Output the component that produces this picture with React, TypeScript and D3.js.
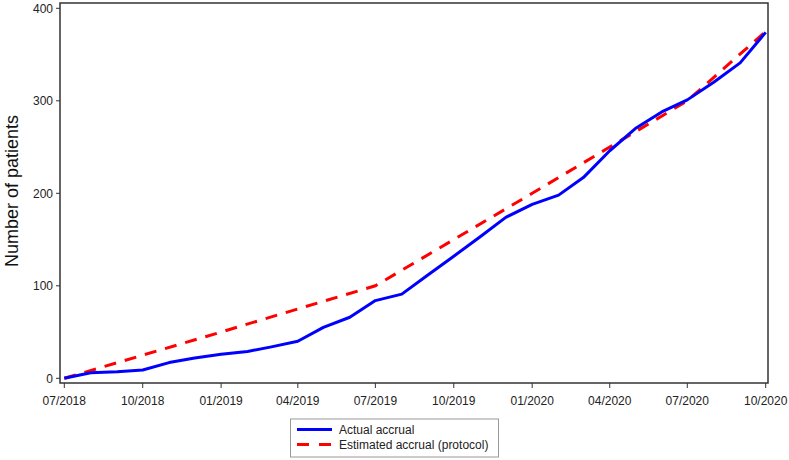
import React from "react";
import * as d3 from "d3";

const actualMonths = [
  "2018-07", "2018-08", "2018-09", "2018-10", "2018-11", "2018-12",
  "2019-01", "2019-02", "2019-03", "2019-04", "2019-05", "2019-06",
  "2019-07", "2019-08", "2019-09", "2019-10", "2019-11", "2019-12",
  "2020-01", "2020-02", "2020-03", "2020-04", "2020-05", "2020-06",
  "2020-07", "2020-08", "2020-09", "2020-10",
];
const actualValues = [
  0, 6, 7, 9, 17, 22,
  26, 29, 34, 40, 55, 66,
  84, 91, 112, 132, 153, 174,
  188, 198, 217, 246, 270, 288,
  301, 320, 341, 374,
];
const estimatedMonths = [
  "2018-07", "2018-10", "2019-01", "2019-04", "2019-07",
  "2019-10", "2020-01", "2020-04", "2020-07", "2020-10",
];
const estimatedValues = [0, 25, 50, 75, 100, 150, 200, 250, 300, 375];

const xTickLabels = [
  "07/2018", "10/2018", "01/2019", "04/2019", "07/2019",
  "10/2019", "01/2020", "04/2020", "07/2020", "10/2020",
];
const yTicks = [0, 100, 200, 300, 400];

const yAxisTitle = "Number of patients";
const legendLabels = ["Actual accrual", "Estimated accrual (protocol)"];

const parseMonth = d3.timeParse("%Y-%m");
const parseTick = d3.timeParse("%m/%Y");

export default function App() {
  const W = 789;
  const H = 460;
  const frame = { left: 60, right: 768, top: 3, bottom: 383 };

  const x = d3
    .scaleTime()
    .domain([parseMonth("2018-07") as Date, parseMonth("2020-10") as Date])
    .range([64.3, 765.7]);
  const y = d3.scaleLinear().domain([0, 400]).range([378.3, 8.3]);

  const line = d3
    .line<[Date, number]>()
    .x((d) => x(d[0]))
    .y((d) => y(d[1]));

  const actual: [Date, number][] = actualMonths.map((m, i) => [
    parseMonth(m) as Date,
    actualValues[i],
  ]);
  const estimated: [Date, number][] = estimatedMonths.map((m, i) => [
    parseMonth(m) as Date,
    estimatedValues[i],
  ]);

  const font = "'Liberation Sans', Arial, sans-serif";
  const axisColor = "#333333";

  return (
    <svg
      width={W}
      height={H}
      style={{ position: "absolute", left: 0, top: 0, background: "#fff" }}
      fontFamily={font}
    >
      <rect x={0} y={0} width={W} height={H} fill="#ffffff" />
      <defs>
        <clipPath id="plotclip">
          <rect
            x={frame.left}
            y={frame.top}
            width={frame.right - frame.left}
            height={frame.bottom - frame.top}
          />
        </clipPath>
      </defs>

      {/* lines */}
      <g clipPath="url(#plotclip)">
        <path
          d={line(estimated) || ""}
          fill="none"
          stroke="#ff0000"
          strokeWidth={3}
          strokeDasharray="12,9"
        />
        <path
          d={line(actual) || ""}
          fill="none"
          stroke="#0000ff"
          strokeWidth={3}
          strokeLinejoin="round"
        />
      </g>

      {/* frame */}
      <rect
        x={frame.left}
        y={frame.top}
        width={frame.right - frame.left}
        height={frame.bottom - frame.top}
        fill="none"
        stroke={axisColor}
        strokeWidth={1.5}
      />

      {/* y axis ticks */}
      {yTicks.map((t) => (
        <g key={"y" + t}>
          <line
            x1={frame.left - 4}
            x2={frame.left}
            y1={y(t)}
            y2={y(t)}
            stroke={axisColor}
            strokeWidth={1}
          />
          <text
            x={frame.left - 7}
            y={y(t)}
            dy="0.35em"
            textAnchor="end"
            fontSize={12}
            fill="#222"
          >
            {t}
          </text>
        </g>
      ))}

      {/* x axis ticks */}
      {xTickLabels.map((lab) => {
        const xv = x(parseTick(lab) as Date);
        return (
          <g key={lab}>
            <line
              x1={xv}
              x2={xv}
              y1={frame.bottom}
              y2={frame.bottom + 5}
              stroke={axisColor}
              strokeWidth={1}
            />
            <text
              x={xv}
              y={405}
              textAnchor="middle"
              fontSize={12}
              fill="#222"
            >
              {lab}
            </text>
          </g>
        );
      })}

      {/* y axis title */}
      <text
        transform={`translate(18, ${(115 + 267) / 2}) rotate(-90)`}
        textAnchor="middle"
        fontSize={18}
        fill="#111"
      >
        {yAxisTitle}
      </text>

      {/* legend */}
      <g>
        <rect
          x={290.5}
          y={419}
          width={208}
          height={38}
          fill="#fff"
          stroke="#999"
          strokeWidth={1}
        />
        <line x1={297} x2={332} y1={429.5} y2={429.5} stroke="#0000ff" strokeWidth={3} />
        <line
          x1={297}
          x2={332}
          y1={444.5}
          y2={444.5}
          stroke="#ff0000"
          strokeWidth={3}
          strokeDasharray="12,10"
        />
        <text x={339} y={434} fontSize={12} fill="#222">
          {legendLabels[0]}
        </text>
        <text x={339} y={449} fontSize={12} fill="#222">
          {legendLabels[1]}
        </text>
      </g>
    </svg>
  );
}
